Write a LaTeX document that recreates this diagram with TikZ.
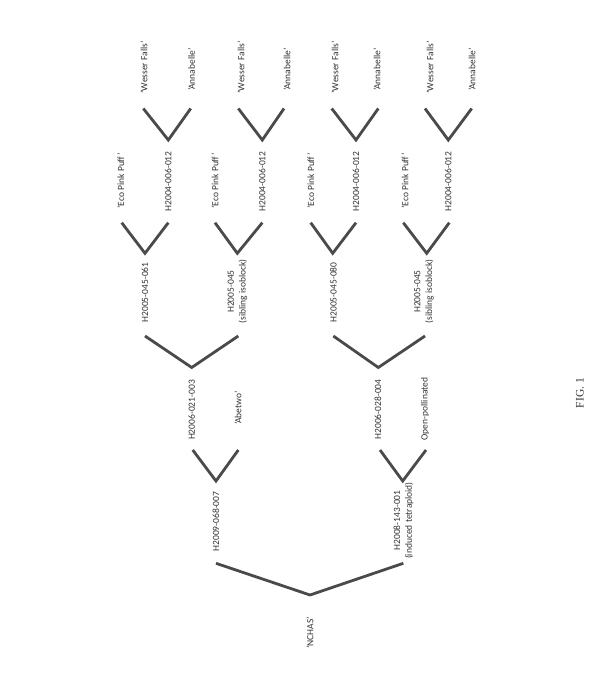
\documentclass[tikz,border=0pt]{standalone}
\usepackage{fontspec}
\setmainfont{Carlito}
\newfontfamily\figfont{Liberation Serif}
\definecolor{txt}{HTML}{333333}
\definecolor{ln}{HTML}{4A4A4A}
\begin{document}
\begin{tikzpicture}[x=1pt,y=-1pt,
  lbl/.style={rotate=90, inner sep=0pt, align=center,
    font=\fontsize{9.5}{11.7}\selectfont, text=txt},
  vline/.style={draw=ln, line width=2.8pt, line join=miter, line cap=butt}]
\useasboundingbox (0,0) rectangle (607,700);

% ---------- top row: grandparents ----------
\node[lbl] (w1) at (144,67.5) {'Wesser Falls'};
\node[lbl] (a1) at (191.5,69.5) {'Annabelle'};
\node[lbl] (w2) at (241,67.5) {'Wesser Falls'};
\node[lbl] (a2) at (287,69.5) {'Annabelle'};
\node[lbl] (w3) at (335,67.5) {'Wesser Falls'};
\node[lbl] (a3) at (377,69.5) {'Annabelle'};
\node[lbl] (w4) at (430,67.5) {'Wesser Falls'};
\node[lbl] (a4) at (472,69.5) {'Annabelle'};

% ---------- level 1 V's ----------
\foreach \i/\l/\b/\r in {1/143.3/168.3/190.7, 2/238.3/262.3/284, 3/331.7/356/378.3, 4/425/448.3/471.7}{
  \coordinate (pa\i l) at (\l,108.5);
  \coordinate (pa\i b) at (\b,140);
  \coordinate (pa\i r) at (\r,108.5);
}
\foreach \i in {1,2,3,4}{\draw[vline] (pa\i l) -- (pa\i b) -- (pa\i r);}

% ---------- level 1 labels ----------
\node[lbl] (e1) at (120.7,181) {'Eco Pink Puff'};
\node[lbl] (h1) at (168.3,181.5) {H2004-006-012};
\node[lbl] (e2) at (215,181) {'Eco Pink Puff'};
\node[lbl] (h2) at (262.3,181.5) {H2004-006-012};
\node[lbl] (e3) at (310.7,181) {'Eco Pink Puff'};
\node[lbl] (h3) at (356,181.5) {H2004-006-012};
\node[lbl] (e4) at (405,181) {'Eco Pink Puff'};
\node[lbl] (h4) at (448.3,181.5) {H2004-006-012};

% ---------- level 2 V's ----------
\foreach \i/\l/\b/\r in {1/121.7/145/168.3, 2/215/237.3/262.3, 3/310.7/332.7/356, 4/403.3/426.7/449.3}{
  \coordinate (pb\i l) at (\l,222.7);
  \coordinate (pb\i b) at (\b,253.3);
  \coordinate (pb\i r) at (\r,222.7);
}
\foreach \i in {1,2,3,4}{\draw[vline] (pb\i l) -- (pb\i b) -- (pb\i r);}

% ---------- level 2 labels ----------
\node[lbl] (g1) at (145,292.5) {H2005-045-061};
\node[lbl] (g2) at (237.5,291.5) {H2005-045\\(sibling isoblock)};
\node[lbl] (g3) at (333.3,292.5) {H2005-045-080};
\node[lbl] (g4) at (424,291.5) {H2005-045\\(sibling isoblock)};

% ---------- level 3 V's ----------
\coordinate (pc1l) at (145,336);
\coordinate (pc1b) at (191.7,367.5);
\coordinate (pc1r) at (238.3,336);
\coordinate (pc2l) at (333.3,336);
\coordinate (pc2b) at (378.3,367.5);
\coordinate (pc2r) at (425,336);
\draw[vline] (pc1l) -- (pc1b) -- (pc1r);
\draw[vline] (pc2l) -- (pc2b) -- (pc2r);

% ---------- level 3 labels ----------
\node[lbl] (k1) at (191.7,410) {H2006-021-003};
\node[lbl] (k2) at (238,408) {'Abetwo'};
\node[lbl] (k3) at (378,409.5) {H2006-028-004};
\node[lbl] (k4) at (425,409) {Open-pollinated};

% ---------- level 4 V's ----------
\coordinate (pd1l) at (192.7,450);
\coordinate (pd1b) at (216,481);
\coordinate (pd1r) at (238.3,450);
\coordinate (pd2l) at (380,450);
\coordinate (pd2b) at (402.7,481);
\coordinate (pd2r) at (426,450);
\draw[vline] (pd1l) -- (pd1b) -- (pd1r);
\draw[vline] (pd2l) -- (pd2b) -- (pd2r);

% ---------- level 4 labels ----------
\node[lbl] (m1) at (216,521.5) {H2009-068-007};
\node[lbl] (m2) at (403.5,520.5) {H2008-143-001\\(induced tetraploid)};

% ---------- final V ----------
\coordinate (pel) at (216,563.3);
\coordinate (peb) at (310,595);
\coordinate (per) at (403.3,563.3);
\draw[vline] (pel) -- (peb) -- (per);

\node[lbl] (nchas) at (310,633) {'NCHAS'};

% ---------- figure caption ----------
\node[rotate=90, inner sep=0pt, font=\figfont\fontsize{11.5}{13}\selectfont, text=txt] (fig) at (580,393) {FIG. 1};
\end{tikzpicture}
\end{document}
